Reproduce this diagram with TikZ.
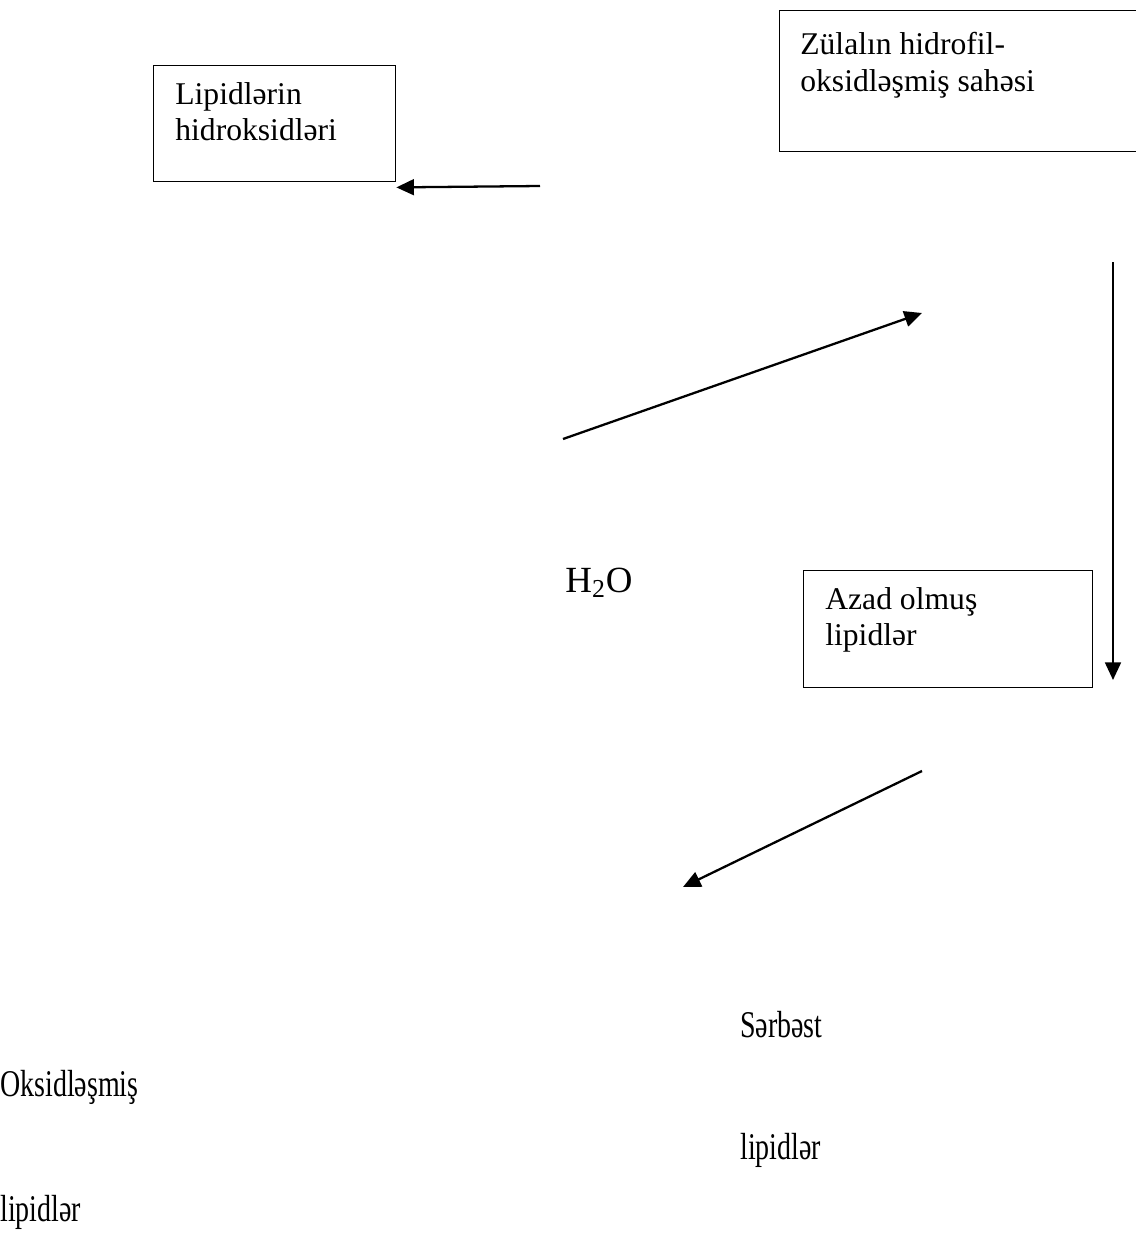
\documentclass[tikz,border=0pt]{standalone}
\usepackage{fontspec}
\setmainfont{Liberation Serif}
\usetikzlibrary{arrows.meta,positioning}

\begin{document}
\begin{tikzpicture}[x=0.02cm,y=-0.02cm,
  box/.style={draw,line width=0.8pt,anchor=north west,inner sep=0pt},
  txt/.style={inner sep=0pt,align=left,font=\fontsize{18}{20.8}\selectfont},
  lowtxt/.style={txt,anchor=west,font=\fontsize{21.5}{24}\selectfont,xscale=0.74,transform shape},
  conn/.style={-{Triangle[length=10pt,width=9pt]},line width=1.3pt}]
  \useasboundingbox (0,0) rectangle (1136,1245);
  \clip (0,0) rectangle (1136,1245);
  % boxes
  \node[box,minimum width=4.84cm,minimum height=2.32cm] (lipbox) at (153,65) {};
  \node[box,minimum width=7.42cm,minimum height=2.82cm] (zulbox) at (779,10) {};
  \node[box,minimum width=5.78cm,minimum height=2.34cm] (azadbox) at (803,570) {};
  % box texts
  \node[txt,below right=0.34cm and 0.44cm of lipbox.north west] (lip) {Lipidlərin\\hidroksidləri};
  \node[txt,below right=0.44cm and 0.42cm of zulbox.north west] (zul) {Zülalın hidrofil-\\oksidləşmiş sahəsi};
  \node[txt,below right=0.34cm and 0.44cm of azadbox.north west] (azad) {Azad olmuş\\lipidlər};
  % free labels
  \node[txt,anchor=west,font=\fontsize{21}{24}\selectfont] (water) at (565,583) {H\textsubscript{2}O};
  \node[lowtxt] (serbest) at (740,1025) {Sərbəst};
  \node[lowtxt] (oksid) at (0,1087) {Oksidləşmiş};
  \node[lowtxt] (serlip) at (740,1150) {lipidlər};
  \node[lowtxt] (oklip) at (0,1212) {lipidlər};
  % arrow ends
  \coordinate (a1s) at (540,186);
  \coordinate (a1e) at ([yshift=-0.1cm]lipbox.south east);
  \coordinate (a2s) at (563,439);
  \coordinate (a2e) at (922,313);
  \coordinate (a3s) at (1113,262);
  \coordinate (a3e) at (1113,680);
  \coordinate (a4s) at (922,771);
  \coordinate (a4e) at (683,887);
  % arrows
  \draw[conn] (a1s) -- (a1e);
  \draw[conn] (a2s) -- (a2e);
  \draw[conn] (a3s) -- (a3e);
  \draw[conn] (a4s) -- (a4e);
\end{tikzpicture}
\end{document}
